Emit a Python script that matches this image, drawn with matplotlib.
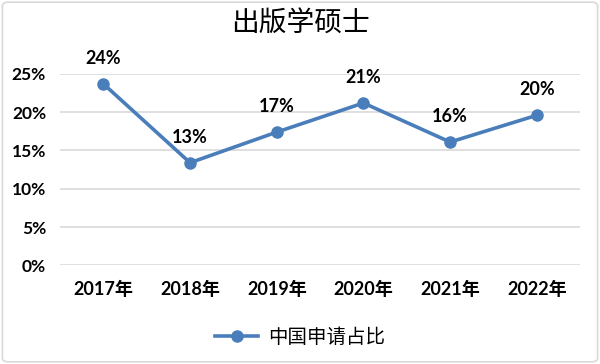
import matplotlib.pyplot as plt
from matplotlib.patches import FancyBboxPatch
from matplotlib.ticker import PercentFormatter

years = ['2017年', '2018年', '2019年', '2020年', '2021年', '2022年']
share = [0.237, 0.134, 0.174, 0.212, 0.161, 0.196]
series_name = '中国申请占比'
title = '出版学硕士'

plt.rcParams['font.family'] = ['Lato', 'Noto Sans CJK SC', 'DejaVu Sans']
blue = '#4a7ebb'

fig = plt.figure(figsize=(6, 3.64), dpi=100)
ax = fig.add_axes([0.1, 0.271, 0.867, 0.526])

x = list(range(len(years)))
ax.plot(x, share, color=blue, lw=2.6, marker='o', ms=8, label=series_name)
for xi, v in zip(x, share):
    ax.annotate(f'{round(v*100):.0f}%', (xi, v), xytext=(0, 18.5), textcoords='offset points',
                ha='center', va='center', fontsize=13, fontweight='bold')

ax.set_xlim(-0.5, len(years) - 0.5)
ax.set_ylim(0, 0.25)
ax.set_yticks([0, 0.05, 0.10, 0.15, 0.20, 0.25])
ax.yaxis.set_major_formatter(PercentFormatter(1, decimals=0))
ax.set_xticks(x)
ax.set_xticklabels(years)
ax.tick_params(axis='y', length=0, labelsize=12.5, pad=10)
ax.tick_params(axis='x', length=0, labelsize=13, pad=11)
for lab in ax.get_xticklabels() + ax.get_yticklabels():
    lab.set_fontweight('bold')
ax.grid(axis='y', color='#d9d9d9', lw=1.2)
ax.set_axisbelow(True)
for s in ax.spines.values():
    s.set_visible(False)

fig.text(0.5, 0.935, title, ha='center', va='center', fontsize=20,
         family=['Noto Sans CJK SC'])
fig.legend(loc='center', bbox_to_anchor=(0.5, 0.073), frameon=False,
           handlelength=2.2, handletextpad=0.5, prop={'family': ['Noto Sans CJK SC'], 'size': 14})

fig.patches.append(FancyBboxPatch((0.004, 0.006), 0.992, 0.988, boxstyle='round,pad=0,rounding_size=0.01',
                                  transform=fig.transFigure, fill=False, ec='#d9d9d9', lw=1.2))

fig.savefig('out.png', dpi=100)
